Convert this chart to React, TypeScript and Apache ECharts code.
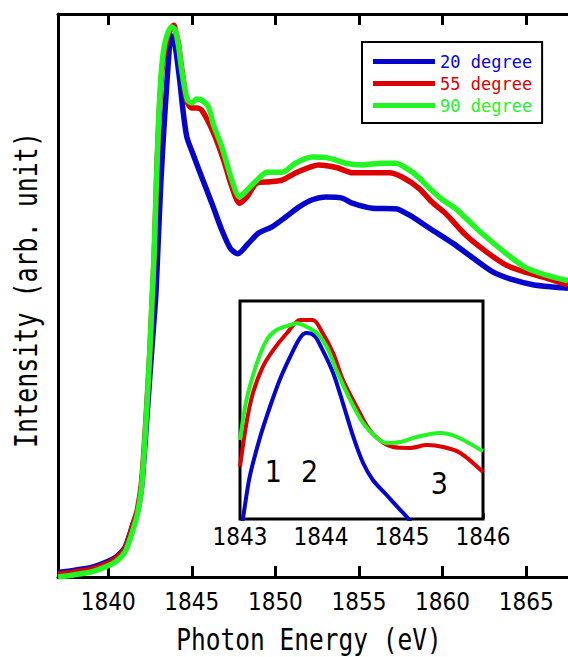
import React, { useEffect, useRef } from "react";
import * as echarts from "echarts";

// ---------- data (main panel) ----------
const E20 = [1837, 1838, 1839, 1840, 1840.5, 1841, 1841.25, 1841.5, 1841.75, 1842, 1842.25, 1842.5, 1842.7, 1842.85, 1843.0, 1843.15, 1843.3, 1843.45, 1843.6, 1843.75, 1843.9, 1844.05, 1844.3, 1844.45, 1844.7, 1845.05, 1845.6, 1846.2, 1846.8, 1847.3, 1847.75, 1848.4, 1849, 1849.8, 1850.6, 1851.4, 1852.2, 1853, 1854, 1854.6, 1855.8, 1857.2, 1858, 1859.4, 1860.6, 1861.8, 1863, 1864.2, 1865.4, 1866.6, 1867.5];
const I20 = [0.008, 0.012, 0.017, 0.028, 0.036, 0.052, 0.072, 0.095, 0.115, 0.16, 0.255, 0.36, 0.44, 0.5, 0.6, 0.7, 0.78, 0.85, 0.915, 0.962, 0.955, 0.935, 0.877, 0.835, 0.782, 0.753, 0.71, 0.664, 0.616, 0.584, 0.574, 0.593, 0.611, 0.622, 0.639, 0.657, 0.67, 0.675, 0.673, 0.664, 0.655, 0.654, 0.643, 0.616, 0.593, 0.567, 0.542, 0.528, 0.519, 0.515, 0.513];

const E55 = [1837, 1838, 1839, 1840, 1840.5, 1841, 1841.25, 1841.5, 1841.75, 1842, 1842.25, 1842.5, 1842.63, 1842.75, 1842.85, 1842.93, 1843.03, 1843.13, 1843.23, 1843.37, 1843.5, 1843.63, 1843.78, 1843.93, 1844.05, 1844.2, 1844.35, 1844.5, 1844.6, 1844.75, 1845, 1845.3, 1845.6, 1846.3, 1846.9, 1847.4, 1847.85, 1848.3, 1848.9, 1849.7, 1850.4, 1851.3, 1852.6, 1853.7, 1854.6, 1855.6, 1856.8, 1857.6, 1858.6, 1859.4, 1860.2, 1861.4, 1862.6, 1863.8, 1865, 1866.2, 1867.5];
const I55 = [0.005, 0.009, 0.014, 0.025, 0.034, 0.05, 0.07, 0.095, 0.12, 0.169, 0.275, 0.405, 0.492, 0.568, 0.661, 0.739, 0.81, 0.865, 0.904, 0.931, 0.95, 0.966, 0.975, 0.98, 0.966, 0.948, 0.913, 0.883, 0.86, 0.842, 0.833, 0.833, 0.829, 0.789, 0.741, 0.693, 0.664, 0.675, 0.7, 0.702, 0.705, 0.719, 0.732, 0.727, 0.718, 0.718, 0.718, 0.71, 0.69, 0.665, 0.645, 0.607, 0.578, 0.554, 0.541, 0.531, 0.519];

const E90 = [1837, 1838, 1839, 1840, 1840.5, 1841, 1841.25, 1841.5, 1841.75, 1842, 1842.25, 1842.5, 1842.63, 1842.75, 1842.85, 1842.95, 1843.05, 1843.15, 1843.25, 1843.37, 1843.5, 1843.65, 1843.8, 1844.0, 1844.2, 1844.4, 1844.6, 1844.75, 1845, 1845.3, 1845.6, 1846, 1846.3, 1846.8, 1847.4, 1847.85, 1848.3, 1848.8, 1849.5, 1850.4, 1851.2, 1852.2, 1853.2, 1854.2, 1855.2, 1856.4, 1857.2, 1858, 1858.6, 1859.2, 1860, 1860.8, 1862, 1862.8, 1864, 1865, 1866.2, 1867.5];
const I90 = [0.0, 0.004, 0.009, 0.02, 0.028, 0.044, 0.062, 0.085, 0.112, 0.16, 0.27, 0.405, 0.495, 0.575, 0.67, 0.755, 0.83, 0.885, 0.92, 0.945, 0.96, 0.972, 0.977, 0.972, 0.945, 0.9, 0.865, 0.847, 0.842, 0.849, 0.847, 0.835, 0.803, 0.764, 0.705, 0.675, 0.687, 0.702, 0.719, 0.719, 0.735, 0.746, 0.744, 0.735, 0.732, 0.735, 0.735, 0.723, 0.709, 0.691, 0.67, 0.654, 0.62, 0.599, 0.57, 0.549, 0.536, 0.526];

// ---------- data (inset) ----------
const INSET_E20 = [1843.0, 1843.04, 1843.12, 1843.25, 1843.37, 1843.49, 1843.62, 1843.74, 1843.82, 1843.92, 1844.02, 1844.15, 1844.27, 1844.4, 1844.52, 1844.64, 1844.81, 1844.98, 1845.07, 1845.15];
const INSET_I20 = [-0.08, 0.011, 0.194, 0.378, 0.515, 0.638, 0.745, 0.83, 0.853, 0.84, 0.775, 0.67, 0.532, 0.376, 0.257, 0.179, 0.11, 0.041, 0.005, -0.04];
const INSET_E55 = [1843.0, 1843.08, 1843.16, 1843.28, 1843.41, 1843.58, 1843.74, 1843.9, 1844.02, 1844.15, 1844.27, 1844.44, 1844.6, 1844.77, 1844.89, 1845.1, 1845.31, 1845.51, 1845.72, 1846.0];
const INSET_I55 = [0.24, 0.44, 0.578, 0.697, 0.775, 0.853, 0.913, 0.913, 0.853, 0.761, 0.638, 0.514, 0.408, 0.349, 0.33, 0.326, 0.339, 0.33, 0.303, 0.215];
const INSET_E90 = [1843.0, 1843.08, 1843.21, 1843.33, 1843.45, 1843.62, 1843.7, 1843.82, 1843.95, 1844.07, 1844.19, 1844.36, 1844.52, 1844.69, 1844.81, 1844.98, 1845.18, 1845.47, 1845.68, 1846.0];
const INSET_I90 = [0.362, 0.546, 0.716, 0.821, 0.867, 0.89, 0.898, 0.882, 0.853, 0.79, 0.683, 0.546, 0.44, 0.372, 0.349, 0.353, 0.376, 0.394, 0.376, 0.31];

const ANNO_TEXT = ["1", "2", "3"];
const ANNO_E = [1843.41, 1843.86, 1845.46];
const ANNO_I = [0.216, 0.216, 0.165];

const SERIES_NAMES = ["20 degree", "55 degree", "90 degree"];
const MAIN_TICKS = [1840, 1845, 1850, 1855, 1860, 1865];

const BLUE = "#0505cc";
const RED = "#dd0000";
const GREEN = "#22f522";
const COLORS = [BLUE, RED, GREEN];

const NUM_FONT = "'Liberation Sans Narrow', 'DejaVu Sans Condensed', sans-serif";
const MONO_FONT = "'DejaVu Sans Mono', 'Liberation Mono', monospace";

const zip = (xs: number[], ys: number[]) => xs.map((x, i) => [x, ys[i]]);
const plain = (v: number) => String(v);

export default function App() {
  const ref = useRef<HTMLDivElement>(null);

  useEffect(() => {
    if (!ref.current) return;
    const chart = echarts.init(ref.current, null, { renderer: "svg" });

    const mainData = [zip(E20, I20), zip(E55, I55), zip(E90, I90)];
    const insetData = [zip(INSET_E20, INSET_I20), zip(INSET_E55, INSET_I55), zip(INSET_E90, INSET_I90)];

    const mainSeries = mainData.map((d, i) => ({
      type: "line",
      name: SERIES_NAMES[i],
      xAxisIndex: 0,
      yAxisIndex: 0,
      data: d,
      symbol: "none",
      showSymbol: false,
      smooth: 0.25,
      lineStyle: { color: COLORS[i], width: 5.5, join: "round" },
      itemStyle: { color: COLORS[i] },
      z: 2 + i,
      silent: true,
    }));

    const insetSeries = insetData.map((d, i) => ({
      type: "line",
      name: SERIES_NAMES[i] + " inset",
      xAxisIndex: 2,
      yAxisIndex: 1,
      data: d,
      symbol: "none",
      showSymbol: false,
      smooth: 0.3,
      clip: true,
      lineStyle: { color: COLORS[i], width: 4, join: "round" },
      itemStyle: { color: COLORS[i] },
      z: 6 + i,
      silent: true,
    }));

    const annoSeries = {
      type: "scatter",
      name: "annotations",
      xAxisIndex: 2,
      yAxisIndex: 1,
      symbolSize: 1,
      itemStyle: { color: "#ffffff", opacity: 1 },
      silent: true,
      z: 10,
      data: ANNO_E.map((x, i) => ({
        value: [x, ANNO_I[i]],
        label: {
          show: true,
          position: "inside",
          formatter: ANNO_TEXT[i],
          fontSize: 30,
          fontFamily: NUM_FONT,
          color: "#000000",
          opacity: 1,
          textBorderWidth: 0,
        },
      })),
    };

    chart.setOption({
      animation: false,
      backgroundColor: "#fff",
      grid: [
        { left: 58, right: 0, top: 14, bottom: 80, containLabel: false },
        {
          left: 240,
          top: 301,
          width: 243,
          height: 218,
          show: true,
          borderColor: "#000",
          borderWidth: 3,
          backgroundColor: "#fff",
          z: 5,
        },
      ],
      legend: {
        show: true,
        orient: "vertical",
        left: 362,
        top: 42,
        icon: "rect",
        itemWidth: 62,
        itemHeight: 5,
        itemGap: 5,
        padding: [11, 10, 9, 11],
        borderColor: "#000",
        borderWidth: 2,
        backgroundColor: "#fff",
        selectedMode: false,
        textStyle: { fontFamily: MONO_FONT, fontSize: 17 },
        data: SERIES_NAMES.map((n, i) => ({ name: n, textStyle: { color: COLORS[i] } })),
        z: 20,
      },
      xAxis: [
        {
          type: "value",
          gridIndex: 0,
          position: "bottom",
          min: 1837,
          max: 1867.5,
          axisLine: { show: true, onZero: false, lineStyle: { color: "#000", width: 3 } },
          axisTick: { show: true, inside: true, length: 11, lineStyle: { color: "#000", width: 3 }, customValues: MAIN_TICKS },
          axisLabel: { show: true, customValues: MAIN_TICKS, formatter: plain, fontSize: 24, fontFamily: NUM_FONT, color: "#000", margin: 13 },
          splitLine: { show: false },
        },
        {
          type: "value",
          gridIndex: 0,
          position: "top",
          min: 1837,
          max: 1867.5,
          axisLine: { show: true, onZero: false, lineStyle: { color: "#000", width: 3 } },
          axisTick: { show: true, inside: true, length: 11, lineStyle: { color: "#000", width: 3 }, customValues: MAIN_TICKS },
          axisLabel: { show: false },
          splitLine: { show: false },
        },
        {
          type: "value",
          gridIndex: 1,
          position: "bottom",
          min: 1843,
          max: 1846,
          interval: 1,
          axisLine: { show: false },
          axisTick: { show: true, inside: true, length: 6, lineStyle: { color: "#000", width: 2.5 } },
          axisLabel: { show: true, formatter: plain, fontSize: 24, fontFamily: NUM_FONT, color: "#000", margin: 6 },
          splitLine: { show: false },
        },
      ],
      yAxis: [
        {
          type: "value",
          gridIndex: 0,
          min: 0,
          max: 1,
          axisLine: { show: true, onZero: false, lineStyle: { color: "#000", width: 3 } },
          axisTick: { show: false },
          axisLabel: { show: false },
          splitLine: { show: false },
        },
        {
          type: "value",
          gridIndex: 1,
          min: 0,
          max: 1,
          show: false,
          splitLine: { show: false },
        },
      ],
      graphic: [
        {
          type: "text",
          x: 309,
          y: 640,
          scaleY: 1.25,
          silent: true,
          style: {
            text: "Photon Energy (eV)",
            font: `24.5px ${MONO_FONT}`,
            fill: "#000",
            align: "center",
            verticalAlign: "middle",
          },
        },
        {
          type: "text",
          x: 27,
          y: 290,
          rotation: Math.PI / 2,
          scaleY: 1.25,
          silent: true,
          style: {
            text: "Intensity (arb. unit)",
            font: `25px ${MONO_FONT}`,
            fill: "#000",
            align: "center",
            verticalAlign: "middle",
          },
        },
      ],
      series: [...mainSeries, ...insetSeries, annoSeries],
    });

    return () => chart.dispose();
  }, []);

  return (
    <div
      ref={ref}
      style={{ position: "absolute", left: 0, top: 0, width: 568, height: 657, background: "#fff" }}
    />
  );
}
